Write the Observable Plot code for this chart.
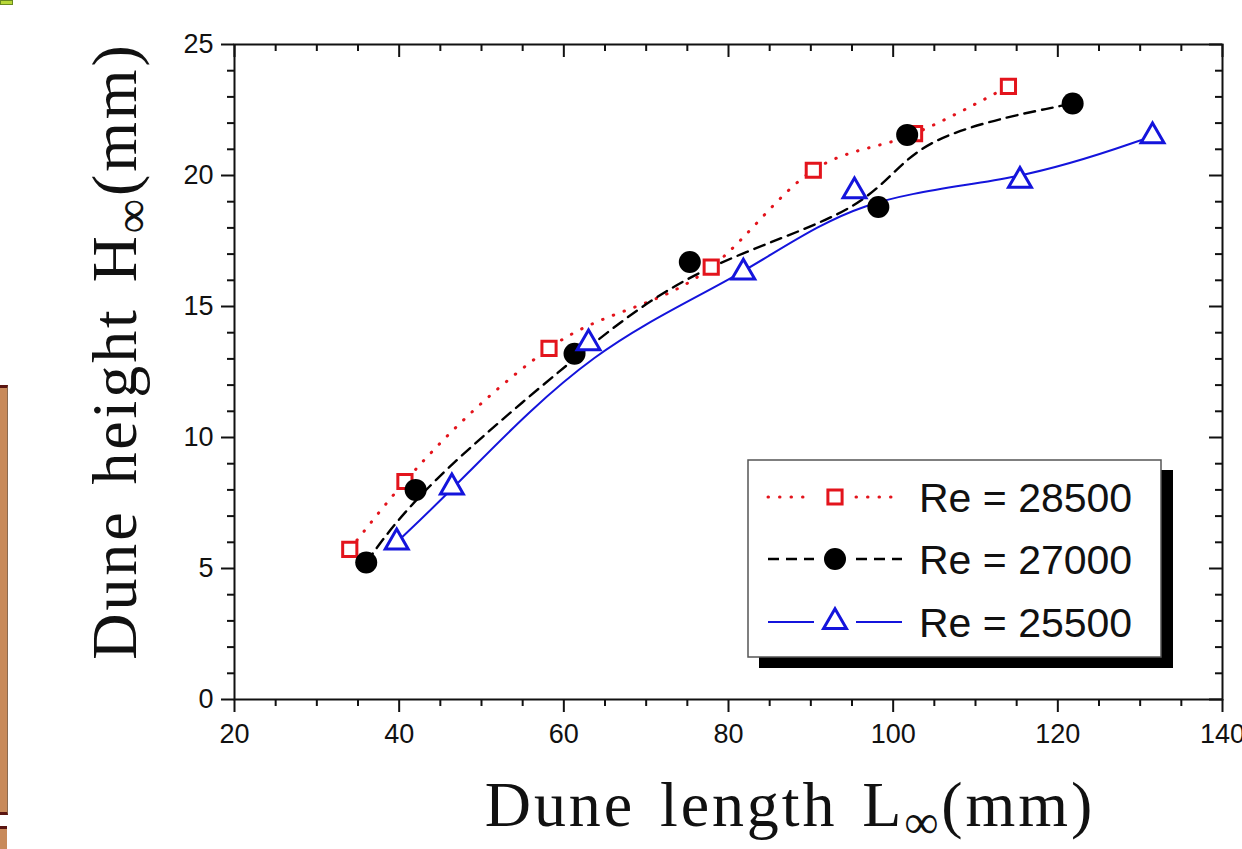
<!DOCTYPE html>
<html><head><meta charset="utf-8">
<script src="https://cdn.jsdelivr.net/npm/d3@7"></script>
<script src="https://cdn.jsdelivr.net/npm/@observablehq/plot@0.6"></script>
<style>
body{margin:0;background:#fff;overflow:hidden}
#chart{position:relative;width:1242px;height:849px}
.art{position:absolute}
</style>
</head><body><div id="chart"></div>
<script>
// ---- data ----
const seriesNames = ["Re = 28500", "Re = 27000", "Re = 25500"];
const re28500L = [34.0, 40.7, 58.2, 77.9, 90.3, 102.6, 114.0];
const re28500H = [5.73, 8.32, 13.4, 16.5, 20.2, 21.6, 23.4];
const re27000L = [36.0, 42.0, 61.3, 75.3, 98.2, 101.7, 121.8];
const re27000H = [5.23, 8.0, 13.2, 16.7, 18.8, 21.55, 22.75];
const re25500L = [39.7, 46.4, 63.0, 81.8, 95.3, 115.4, 131.5];
const re25500H = [6.0, 8.1, 13.6, 16.3, 19.4, 19.8, 21.5];
const xTicks = [20, 40, 60, 80, 100, 120, 140];
const yTicks = [0, 5, 10, 15, 20, 25];
const xTitle = ["Dune length L", "∞", "(mm)"];
const yTitle = ["Dune height H", "∞", "(mm)"];

const xMinor = d3.range(20, 141, 5).filter(v => !xTicks.includes(v));
const yMinor = d3.range(0, 26, 1).filter(v => !yTicks.includes(v));

const toRows = (L, H) => L.map((l, i) => ({L: l, H: H[i]}));
const s1 = toRows(re28500L, re28500H);
const s2 = toRows(re27000L, re27000H);
const s3 = toRows(re25500L, re25500H);

const RED = "#e3141c", BLUE = "#1414dc", BLACK = "#000";
const W = 1242, H = 849, mL = 234, mR = 20, mT = 44, mB = 150;
const innerW = W - mL - mR, innerH = H - mT - mB;
const SANS = "'Liberation Sans', Arial, sans-serif";

const plot = Plot.plot({
  width: W, height: H,
  marginLeft: mL, marginRight: mR, marginTop: mT, marginBottom: mB,
  x: {domain: [20, 140], label: null},
  y: {domain: [0, 25], label: null},
  style: {fontFamily: SANS, fontSize: "27px", color: "#111", background: "#fff", overflow: "visible"},
  marks: [
    Plot.frame({stroke: "#111", strokeWidth: 2}),
    Plot.axisX({ticks: xTicks, tickSize: 13, tickPadding: 11, strokeWidth: 2, label: null, fontSize: 27}),
    Plot.axisX({ticks: xMinor, tickSize: 7, tickFormat: () => "", strokeWidth: 2, label: null}),
    Plot.axisY({ticks: yTicks, tickSize: 13, tickPadding: 8, strokeWidth: 2, label: null, fontSize: 27}),
    Plot.axisY({ticks: yMinor, tickSize: 7, tickFormat: () => "", strokeWidth: 2, label: null}),
    Plot.tickX(xTicks, {x: d => d, insetBottom: innerH - 13, strokeWidth: 2, stroke: "#111"}),
    Plot.tickX(xMinor, {x: d => d, insetBottom: innerH - 7, strokeWidth: 2, stroke: "#111"}),
    Plot.tickY(yTicks, {y: d => d, insetLeft: innerW - 13, strokeWidth: 2, stroke: "#111"}),
    Plot.tickY(yMinor, {y: d => d, insetLeft: innerW - 7, strokeWidth: 2, stroke: "#111"}),
    Plot.line(s1, {x: "L", y: "H", stroke: RED, strokeWidth: 3, strokeDasharray: "0.5,11", strokeLinecap: "round", curve: "monotone-x"}),
    Plot.line(s2, {x: "L", y: "H", stroke: BLACK, strokeWidth: 2.4, strokeDasharray: "11,7", curve: "bundle", tension: 0.95}),
    Plot.line(s3, {x: "L", y: "H", stroke: BLUE, strokeWidth: 2, curve: "bundle", tension: 0.95}),
    Plot.dot(s1, {x: "L", y: "H", symbol: "square", r: 8, stroke: RED, strokeWidth: 3, fill: "white"}),
    Plot.dot(s2, {x: "L", y: "H", symbol: "circle", r: 11, fill: BLACK, stroke: "none"}),
    Plot.dot(s3, {x: "L", y: "H", symbol: "triangle", r: 8.5, stroke: BLUE, strokeWidth: 3, fill: "white"})
  ]
});

const svg = d3.select(plot);
// force tick label size
svg.selectAll("g[aria-label$='tick label'] text")
  .attr("font-size", 27).style("font-size", "27px").style("font-family", SANS);

// axis titles
function title(g, parts) {
  const t = g.append("text")
    .attr("text-anchor", "middle")
    .attr("font-family", "'Liberation Serif', 'Times New Roman', serif")
    .attr("font-size", 64).attr("fill", "#111")
    .attr("letter-spacing", 2.9).attr("word-spacing", 6);
  t.append("tspan").text(parts[0]);
  t.append("tspan").attr("font-size", 48).attr("dy", 12).text(parts[1]);
  t.append("tspan").attr("dy", -12).text(parts[2]);
}
title(svg.append("g").attr("transform", "translate(790,826)"), xTitle);
title(svg.append("g").attr("transform", "translate(136,351) rotate(-90)"), yTitle);

// legend
const lg = svg.append("g");
lg.append("rect").attr("x", 759).attr("y", 470).attr("width", 414).attr("height", 198).attr("fill", "#000");
lg.append("rect").attr("x", 748).attr("y", 460).attr("width", 413).attr("height", 197).attr("fill", "#fff").attr("stroke", "#555").attr("stroke-width", 1.5);
const rowsY = [497, 559, 622];
const legStyle = [
  {stroke: RED, dash: "0.5,11", w: 3, cap: "round", sym: d3.symbolSquare, r: 8, fill: "white", sstroke: RED},
  {stroke: BLACK, dash: "11,7", w: 2.4, cap: "butt", sym: d3.symbolCircle, r: 11, fill: BLACK, sstroke: "none"},
  {stroke: BLUE, dash: null, w: 2, cap: "butt", sym: d3.symbolTriangle, r: 8.5, fill: "white", sstroke: BLUE}
];
seriesNames.forEach((name, i) => {
  const y = rowsY[i], st = legStyle[i];
  [[768, 814], [856, 902]].forEach(([a, b]) => {
    lg.append("line").attr("x1", a).attr("x2", b).attr("y1", y).attr("y2", y)
      .attr("stroke", st.stroke).attr("stroke-width", st.w)
      .attr("stroke-dasharray", st.dash).attr("stroke-linecap", st.cap);
  });
  lg.append("path").attr("transform", `translate(835,${y})`)
    .attr("d", d3.symbol(st.sym, Math.PI * st.r * st.r)())
    .attr("fill", st.fill).attr("stroke", st.sstroke).attr("stroke-width", 3);
  lg.append("text").attr("x", 919).attr("y", y).attr("dy", "0.36em")
    .attr("text-anchor", "start")
    .attr("font-family", SANS).attr("font-size", 41)
    .attr("fill", "#111").text(name);
});

const chart = document.getElementById("chart");
chart.appendChild(plot);

// screenshot edge artifacts
const a1 = document.createElement("div");
a1.className = "art";
a1.style.cssText = "left:0;top:385px;width:7px;height:424px;background:#c88a5a;border-top:3px solid #5a1410;border-bottom:3px solid #5a1410;border-right:1px solid #8a6a50";
chart.appendChild(a1);
const a2 = document.createElement("div");
a2.className = "art";
a2.style.cssText = "left:0;top:826px;width:7px;height:30px;background:#c88a5a;border-top:3px solid #5a1410";
chart.appendChild(a2);
const a3 = document.createElement("div");
a3.className = "art";
a3.style.cssText = "left:0;top:0;width:11px;height:3px;background:#b8d838;border:1px solid #6a8a20";
chart.appendChild(a3);
</script>
</body></html>
